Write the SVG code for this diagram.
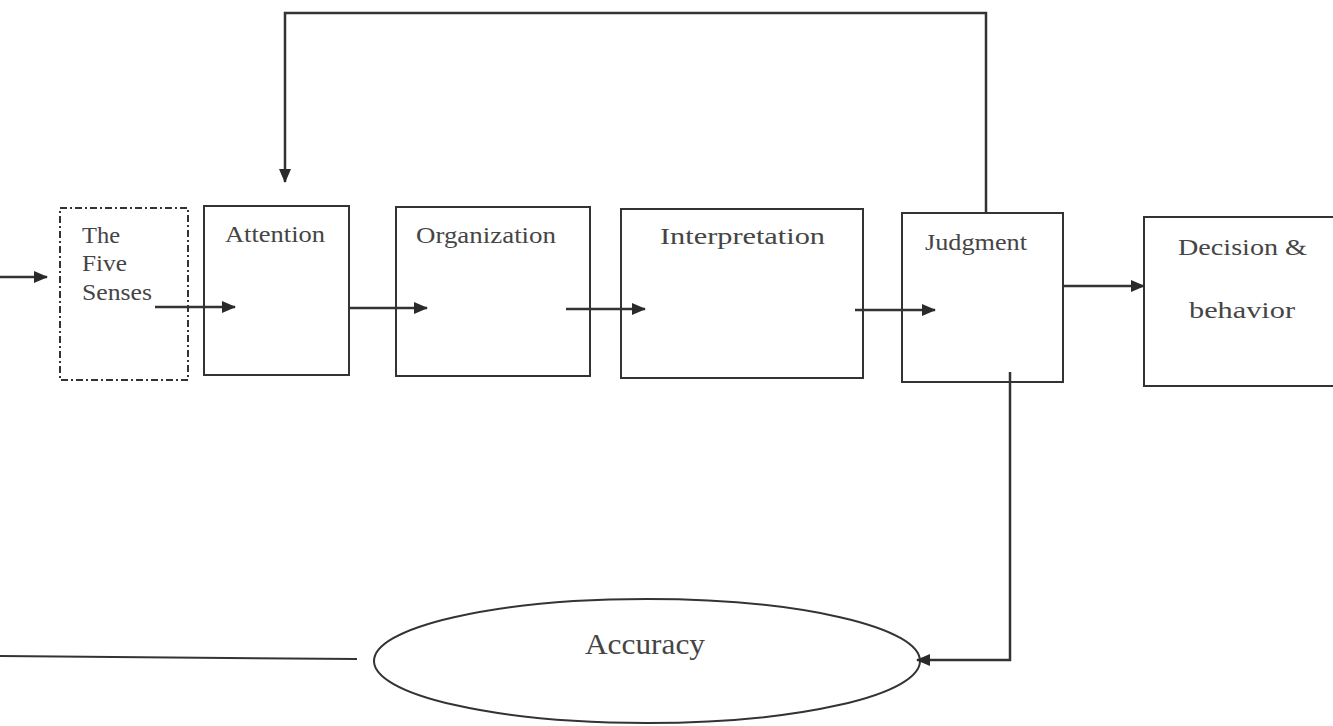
<svg xmlns="http://www.w3.org/2000/svg" width="1333" height="726" viewBox="0 0 1333 726">
<defs>
<marker id="ah" viewBox="0 0 14 12" refX="13" refY="6" markerWidth="14" markerHeight="12" markerUnits="userSpaceOnUse" orient="auto">
<path d="M0,0 L14,6 L0,12 Z" fill="#2a2a2a"/>
</marker>
<style>
.box{fill:#fff;stroke:#333;stroke-width:2}
.dash{fill:none;stroke:#333;stroke-width:2;stroke-dasharray:7,3,2,3}
.lbl{font-family:"Liberation Serif","Times New Roman",serif;font-size:24px;fill:#454545}
.con{fill:none;stroke:#333;stroke-width:2}
.arr{fill:none;stroke:#333;stroke-width:2.5;marker-end:url(#ah)}
</style>
</defs>
<rect width="1333" height="726" fill="#fff"/>
<g id="senses">
<rect class="dash" x="60" y="208" width="128" height="172"/>
<text class="lbl" x="82" y="243" textLength="38" lengthAdjust="spacingAndGlyphs">The</text>
<text class="lbl" x="82" y="271" textLength="45" lengthAdjust="spacingAndGlyphs">Five</text>
<text class="lbl" x="82" y="300" textLength="70" lengthAdjust="spacingAndGlyphs">Senses</text>
</g>
<g id="attention">
<rect class="box" x="204" y="206" width="145" height="169"/>
<text class="lbl" x="225" y="242" textLength="100" lengthAdjust="spacingAndGlyphs">Attention</text>
</g>
<g id="organization">
<rect class="box" x="396" y="207" width="194" height="169"/>
<text class="lbl" x="416" y="243" textLength="140" lengthAdjust="spacingAndGlyphs">Organization</text>
</g>
<g id="interpretation">
<rect class="box" x="621" y="209" width="242" height="169"/>
<text class="lbl" x="660" y="244" textLength="165" lengthAdjust="spacingAndGlyphs">Interpretation</text>
</g>
<g id="judgment">
<rect class="box" x="902" y="213" width="161" height="169"/>
<text class="lbl" x="925" y="250" textLength="102" lengthAdjust="spacingAndGlyphs">Judgment</text>
</g>
<g id="decision">
<rect class="box" x="1144" y="217" width="195" height="169"/>
<text class="lbl" x="1178" y="255" textLength="129" lengthAdjust="spacingAndGlyphs">Decision &amp;</text>
<text class="lbl" x="1189" y="318" textLength="106" lengthAdjust="spacingAndGlyphs">behavior</text>
</g>
<g id="accuracy">
<ellipse cx="647" cy="661" rx="273" ry="62" fill="#fff" stroke="#333" stroke-width="2"/>
<text class="lbl" x="585" y="654" style="font-size:29px" textLength="120" lengthAdjust="spacingAndGlyphs">Accuracy</text>
</g>
<g id="connectors">
<line class="arr" x1="0" y1="277" x2="47" y2="277"/>
<line class="arr" x1="155" y1="307" x2="235" y2="307"/>
<line class="arr" x1="349" y1="308" x2="427" y2="308"/>
<line class="arr" x1="566" y1="309" x2="645" y2="309"/>
<line class="arr" x1="855" y1="310" x2="935" y2="310"/>
<line class="arr" x1="1064" y1="286" x2="1144" y2="286"/>
<path class="arr" d="M986,212 V13 H285 V182"/>
<path class="arr" d="M1010,372 V660 H917"/>
<path class="con" d="M0,656 L357,659"/>
</g>
</svg>
